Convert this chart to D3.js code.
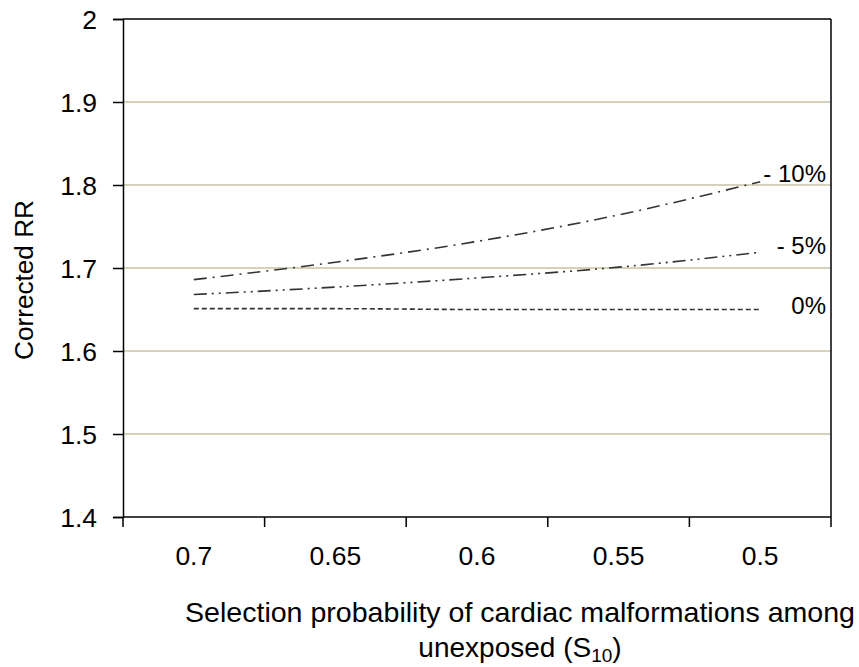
<!DOCTYPE html>
<html>
<head>
<meta charset="utf-8">
<script src="https://cdn.jsdelivr.net/npm/d3@7"></script>
<style>
  body { margin: 0; background: #fff; }
  text { font-family: "Liberation Sans", Arial, sans-serif; fill: #000; }
</style>
</head>
<body>
<svg id="chart" width="859" height="667"></svg>
<script>
// categories on the x axis (S10)
const categories = ['0.7', '0.65', '0.6', '0.55', '0.5'];
// corrected RR for each scenario
const minus10 = [1.686, 1.707, 1.732, 1.764, 1.804];
const minus5 = [1.668, 1.677, 1.688, 1.701, 1.719];
const zero = [1.651, 1.651, 1.650, 1.650, 1.650];
const yTicks = [1.4, 1.5, 1.6, 1.7, 1.8, 1.9, 2];
const seriesNames = ['- 10%', '- 5%', '0%'];

const series = [
  { name: seriesNames[0], values: minus10, dash: '13,6,2,6', off: 0 },
  { name: seriesNames[1], values: minus5, dash: '13,5,2,5,2,5', off: 2 },
  { name: seriesNames[2], values: zero, dash: '5,3', off: 4 }
];

const svg = d3.select('#chart');
const plotL = 123, plotR = 831, plotT = 19, plotB = 517;

const x = d3.scaleBand().domain(categories).range([plotL, plotR]);
const y = d3.scaleLinear().domain([1.4, 2]).range([plotB, plotT]);

// gridlines
svg.append('g')
  .selectAll('line')
  .data(yTicks.filter(d => d > 1.4 && d < 2))
  .join('line')
  .attr('x1', plotL).attr('x2', plotR)
  .attr('y1', d => y(d)).attr('y2', d => y(d))
  .attr('stroke', '#c9c3a3')
  .attr('stroke-width', 1.5);

// box top + right
svg.append('line').attr('x1', plotL).attr('x2', plotR).attr('y1', plotT).attr('y2', plotT)
  .attr('stroke', '#000').attr('stroke-width', 1.5);
svg.append('line').attr('x1', plotR).attr('x2', plotR).attr('y1', plotT).attr('y2', plotB)
  .attr('stroke', '#000').attr('stroke-width', 1.5);

// y axis
const yAxis = svg.append('g')
  .attr('transform', `translate(${plotL},0)`)
  .call(d3.axisLeft(y).tickValues(yTicks).tickFormat(d3.format('')).tickSize(10).tickPadding(16));

yAxis.select('.domain').attr('stroke', '#000').attr('stroke-width', 1.5);
yAxis.selectAll('.tick line').attr('stroke', '#000').attr('stroke-width', 1.5);
yAxis.selectAll('.tick text').attr('font-size', 26.5).attr('font-family', '"Liberation Sans", Arial, sans-serif').attr('dy', '0.35em');

// x axis: ticks at band edges
const edges = categories.map(c => x(c)).concat([plotR]);
const xAxis = svg.append('g')
  .attr('transform', `translate(0,${plotB})`);
xAxis.append('line').attr('x1', plotL).attr('x2', plotR).attr('y1', 0).attr('y2', 0);
xAxis.selectAll('line.tk').data(edges).join('line').attr('class', 'tk')
  .attr('x1', d => d).attr('x2', d => d).attr('y1', 0).attr('y2', 10);
xAxis.selectAll('text').data(categories).join('text')
  .attr('x', d => x(d) + x.bandwidth() / 2)
  .attr('y', 48)
  .attr('text-anchor', 'middle')
  .attr('font-size', 26.5)
  .text(d => d);
xAxis.selectAll('line').attr('stroke', '#000').attr('stroke-width', 1.5);

// lines
const line = d3.line()
  .x((d, i) => x(categories[i]) + x.bandwidth() / 2)
  .y(d => y(d))
  .curve(d3.curveMonotoneX);

svg.append('g').selectAll('path')
  .data(series)
  .join('path')
  .attr('d', d => line(d.values))
  .attr('fill', 'none')
  .attr('stroke', '#333')
  .attr('stroke-width', 1.6)
  .attr('stroke-dasharray', d => d.dash);

// series labels
svg.append('g').selectAll('text')
  .data(series)
  .join('text')
  .attr('x', 826)
  .attr('y', d => y(d.values[d.values.length - 1]) + d.off)
  .attr('text-anchor', 'end')
  .attr('font-size', 24)
  .text(d => d.name);

// y title
svg.append('text')
  .attr('transform', 'translate(33,280) rotate(-90)')
  .attr('text-anchor', 'middle')
  .attr('font-size', 26)
  .attr('textLength', 160)
  .attr('lengthAdjust', 'spacingAndGlyphs')
  .text('Corrected RR');

// x title
svg.append('text')
  .attr('x', 520).attr('y', 622)
  .attr('text-anchor', 'middle')
  .attr('font-size', 28)
  .attr('textLength', 670)
  .attr('lengthAdjust', 'spacingAndGlyphs')
  .text('Selection probability of cardiac malformations among');

const t2 = svg.append('text')
  .attr('x', 520).attr('y', 657)
  .attr('text-anchor', 'middle')
  .attr('font-size', 28);
t2.append('tspan').text('unexposed (S');
t2.append('tspan').attr('font-size', 19).attr('dy', 5).text('10');
t2.append('tspan').attr('dy', -5).text(')');
</script>
</body>
</html>
